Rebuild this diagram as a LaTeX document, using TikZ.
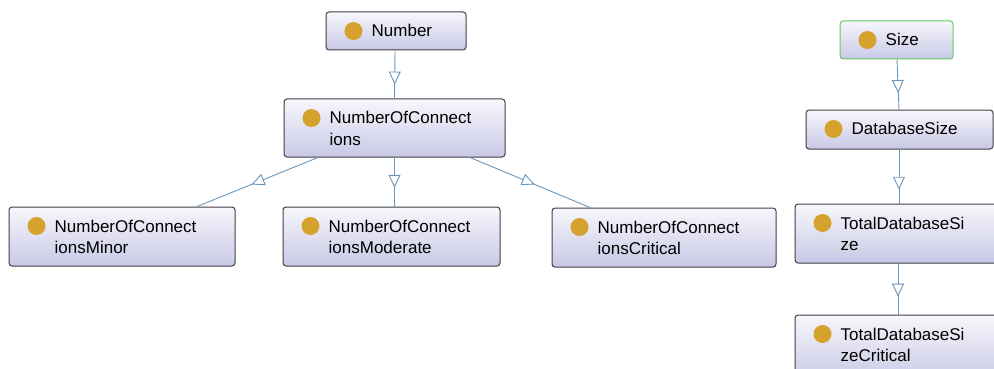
\documentclass[tikz,border=0pt]{standalone}
\usepackage{fontspec}
\setmainfont{Liberation Sans}
\usetikzlibrary{arrows.meta,decorations.markings,calc}

\definecolor{clsborder}{HTML}{3F3F46}
\definecolor{clstop}{HTML}{F7F7FC}
\definecolor{clsbottom}{HTML}{C8C8E6}
\definecolor{dotfill}{HTML}{D6A22E}
\definecolor{linkblue}{HTML}{6A96BC}
\definecolor{rootgreen}{HTML}{5FCF5F}

\tikzset{
  clsbox/.style={draw=clsborder, line width=1pt, rounded corners=3pt,
    top color=clstop, bottom color=clsbottom, inner sep=0pt},
  clsdot/.style={circle, fill=dotfill, minimum size=18pt, inner sep=0pt},
  clslbl/.style={anchor=base west, inner sep=0pt, font=\fontsize{17}{21}\selectfont},
  isa/.style={draw=linkblue, line width=0.9pt, postaction={decorate},
    decoration={markings, mark=at position #1 with
      {\arrow{Triangle[length=13pt,width=12pt,fill=white,line width=0.9pt]}}}},
  isa/.default=0.65
}

% class box: [extra style] name, x1, y1, x2, y2, label
\newcommand\owlclass[7][]{%
  \node[clsbox,#1,minimum width={#5pt-#3pt},minimum height={#6pt-#4pt}]
    (#2) at ({(#3+#5)/2},{(#4+#6)/2}) {};
  \node[clsdot] (#2-dot) at ($(#2.north west)+(28,19.5)$) {};
  \node[clslbl] (#2-text) at ($(#2.north west)+(46,25.5)$)
    {\begin{tabular}[t]{@{}l@{}}#7\end{tabular}};
}

\begin{document}
\begin{tikzpicture}[x=1pt,y=-1pt]
  \useasboundingbox (0,0) rectangle (994,369);
  \clip (0,0) rectangle (994,369);

  % number hierarchy
  \owlclass{number}{326}{12}{466}{50}{Number}
  \owlclass{noc}{284}{99}{505}{157}{NumberOfConnect\\ions}
  \owlclass{minor}{9}{207}{235}{266}{NumberOfConnect\\ionsMinor}
  \owlclass{moderate}{283}{207}{500}{266}{NumberOfConnect\\ionsModerate}
  \owlclass{critical}{552}{208}{776}{267}{NumberOfConnect\\ionsCritical}

  % size hierarchy
  \owlclass[draw=rootgreen]{size}{840}{21}{953}{59}{Size}
  \owlclass{dbsize}{806}{110}{993}{149}{DatabaseSize}
  \owlclass{tdbsize}{795}{204}{1010}{263}{TotalDatabaseSi\\ze}
  \owlclass{tdbcrit}{795}{315}{1010}{382}{TotalDatabaseSi\\zeCritical}

  % subclass links
  \draw[isa=0.71] ($(number.south)+(-1,0)$) -- (noc.north);
  \draw[isa=0.55] ($(noc.south)+(-76.5,0)$) -- ($(minor.north)+(75,0)$);
  \draw[isa=0.62] (noc.south) -- ($(moderate.north)+(3,0)$);
  \draw[isa=0.54] ($(noc.south)+(75.5,0)$) -- ($(critical.north)+(-74,0)$);

  \draw[isa=0.67] ($(size.south)+(0.5,0)$) -- ($(dbsize.north)+(-0.5,0)$);
  \draw[isa=0.75] ($(dbsize.north)+(-0.5,39)$) -- ($(tdbsize.north)+(-3.5,0)$);
  \draw[isa=0.65] ($(tdbsize.south)+(-4.5,0)$) -- ($(tdbcrit.north)+(-4.5,0)$);
\end{tikzpicture}
\end{document}
